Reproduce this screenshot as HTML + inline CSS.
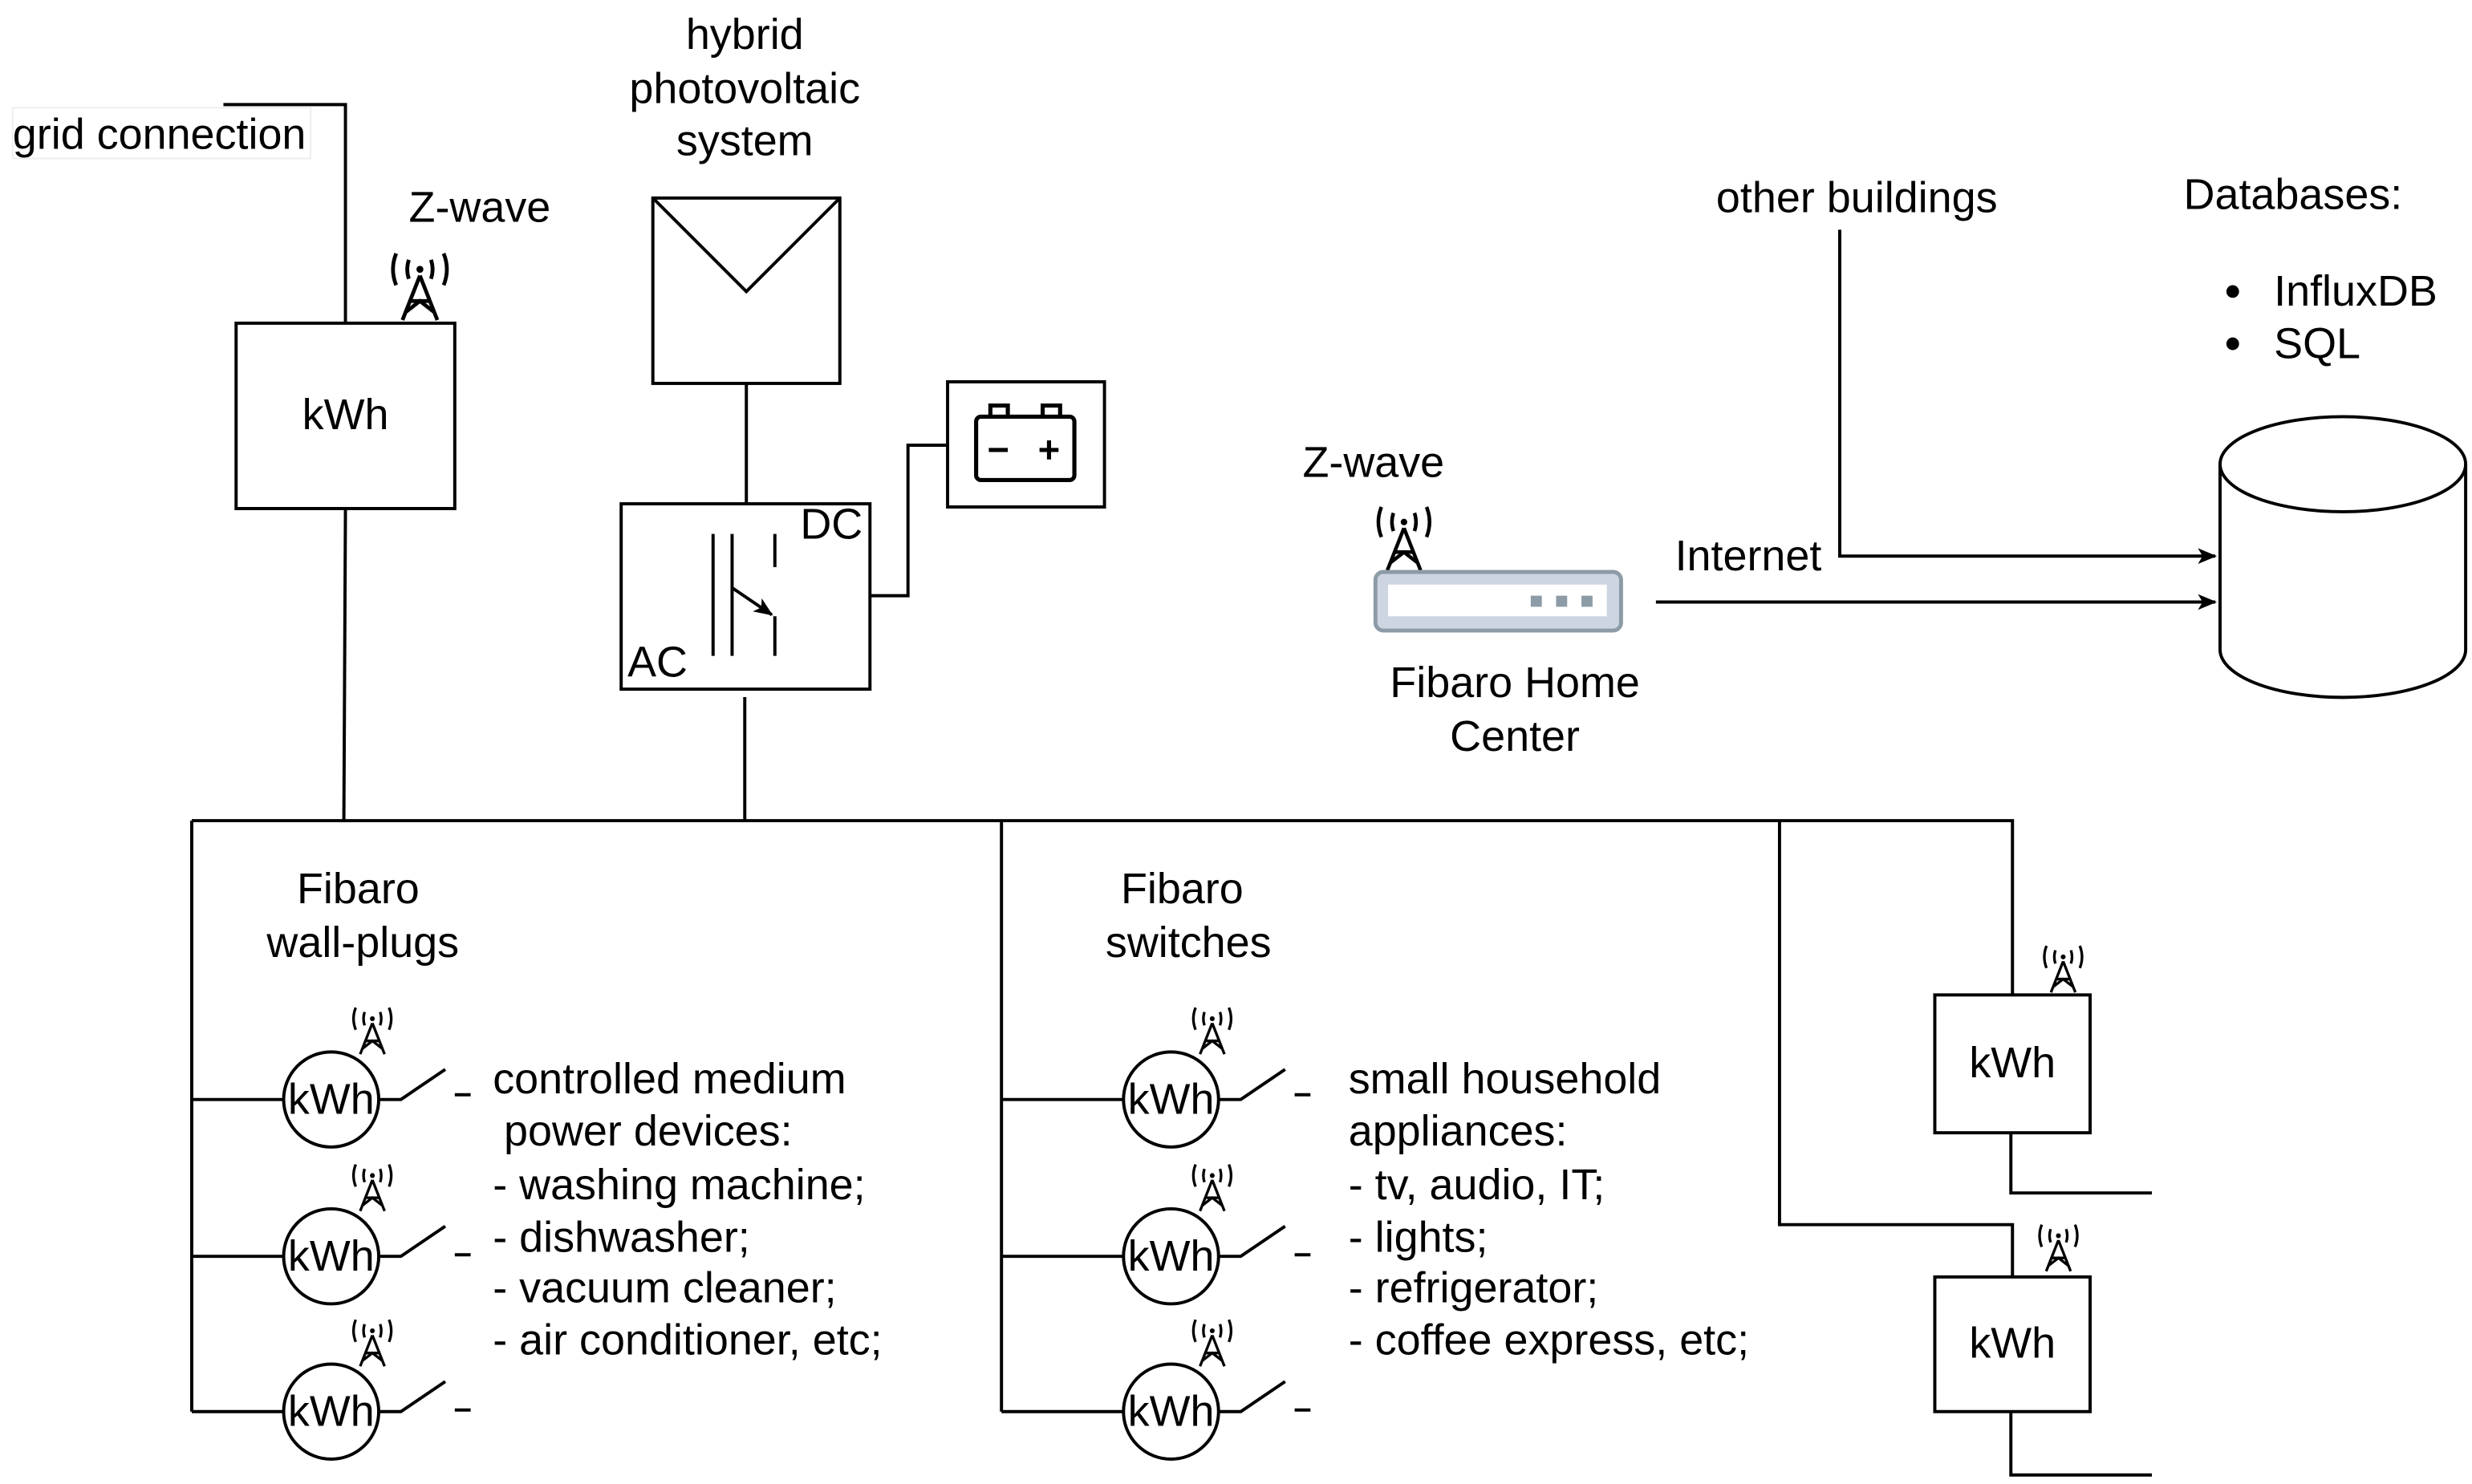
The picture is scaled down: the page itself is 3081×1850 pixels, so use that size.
<!DOCTYPE html>
<html><head><meta charset="utf-8"><style>html,body{margin:0;padding:0;background:#fff;}svg{display:block}</style></head>
<body>
<svg width="3081" height="1850" viewBox="0 0 1560 936.7" preserveAspectRatio="none" xmlns="http://www.w3.org/2000/svg" font-family="Liberation Sans, Arial, sans-serif" font-size="27.3">
<defs>
<g id="ant" fill="none" stroke="#000" stroke-width="2.4">
<circle cx="0" cy="10" r="2.2" fill="#000" stroke="none"/>
<path d="M-7,4 Q-9,10 -7,16 M7,4 Q9,10 7,16 M-15,0 Q-19,10 -15,20 M15,0 Q19,10 15,20"/>
<path d="M0,14 L-11,42 M0,14 L11,42 M-6,30 L6,30 M-9,37 L0,30 L9,37"/>
</g>
<g id="meter">
<circle cx="0" cy="0" r="30" fill="#fff" stroke="#000" stroke-width="2"/>
<text x="0" y="9" text-anchor="middle">kWh</text>
</g>
<marker id="ah" markerWidth="12" markerHeight="10" refX="11" refY="5" orient="auto" markerUnits="userSpaceOnUse"><path d="M0,0 L12,5 L0,10 L3,5 Z" fill="#000"/></marker>
</defs>
<g fill="none" stroke="#000" stroke-width="2">
<path d="M141,66 H218 V204"/>
<rect x="149" y="204" width="138" height="117"/>
<path d="M218,321 L217,518"/>
<rect x="412" y="125" width="118" height="117"/>
<path d="M412,125 L471,184 L530,125"/>
<path d="M471,242 V318"/>
<rect x="392" y="318" width="157" height="117"/>
<path d="M450,337 V414 M462,337 V414 M489,337 V358 M489,389 V414"/>
<path d="M462,371 L487,388" marker-end="url(#ah)"/>
<path d="M549,376 H573 V281 H598"/>
<rect x="598" y="241" width="99" height="79"/>
<path d="M470,440 V518"/>
<path d="M121,518 H1270 V628 M121,518 V891 M632,518 V891 M1123,518 V773 H1270 V806"/>
<rect x="1221" y="628" width="98" height="87"/>
<rect x="1221" y="806" width="98" height="85"/>
<path d="M1269,715 V753 H1358 M1269,891 V931 H1358"/>
<path d="M1045,380 H1398" marker-end="url(#ah)"/>
<path d="M1161,145 V351 H1398" marker-end="url(#ah)"/>
<path d="M1401,293 V410 A77,30 0 0 0 1556,410 V293"/>
<ellipse cx="1478.5" cy="293" rx="77.5" ry="30"/>
</g>
<g fill="none" stroke="#000" stroke-width="2.6">
<rect x="616" y="263" width="62" height="40" rx="3"/>
<path d="M625,263 V256 H636 V263 M658,263 V256 H669 V263"/>
<path d="M624,284 H636 M656,284 H668 M662,278 V290"/>
</g>
<g stroke="#000" stroke-width="2" fill="none">
<path d="M121,694 H179 M239,694 H253 L281,675 M287,691 H297"/>
<path d="M121,793 H179 M239,793 H253 L281,774 M287,792 H297"/>
<path d="M121,891 H179 M239,891 H253 L281,872 M287,890 H297"/>
<path d="M632,694 H709 M769,694 H783 L811,675 M817,691 H827"/>
<path d="M632,793 H709 M769,793 H783 L811,774 M817,792 H827"/>
<path d="M632,891 H709 M769,891 H783 L811,872 M817,890 H827"/>
</g>
<use href="#meter" x="209" y="694"/><use href="#meter" x="209" y="793"/><use href="#meter" x="209" y="891"/>
<use href="#meter" x="739" y="694"/><use href="#meter" x="739" y="793"/><use href="#meter" x="739" y="891"/>
<g transform="translate(235,636) scale(0.7)"><use href="#ant"/></g>
<g transform="translate(235,735) scale(0.7)"><use href="#ant"/></g>
<g transform="translate(235,833) scale(0.7)"><use href="#ant"/></g>
<g transform="translate(765,636) scale(0.7)"><use href="#ant"/></g>
<g transform="translate(765,735) scale(0.7)"><use href="#ant"/></g>
<g transform="translate(765,833) scale(0.7)"><use href="#ant"/></g>
<g transform="translate(1302,597) scale(0.7)"><use href="#ant"/></g>
<g transform="translate(1299,773) scale(0.7)"><use href="#ant"/></g>
<g transform="translate(265,160)"><use href="#ant"/></g>
<g transform="translate(886,320) scale(0.95)"><use href="#ant"/></g>
<rect x="868" y="361" width="155" height="37" rx="5" fill="#cdd5e1" stroke="#8d9ba7" stroke-width="2.5"/>
<rect x="876" y="369" width="138" height="20" fill="#fff"/>
<rect x="966" y="376" width="7" height="7" fill="#8d9ba7"/><rect x="982" y="376" width="7" height="7" fill="#8d9ba7"/><rect x="998" y="376" width="7" height="7" fill="#8d9ba7"/>
<rect x="8" y="68" width="188" height="32" fill="none" stroke="#eee" stroke-width="1"/>
<g fill="#000">
<text x="8" y="94">grid connection</text>
<text x="258" y="140">Z-wave</text>
<text x="218" y="271" text-anchor="middle">kWh</text>
<text x="470" y="31" text-anchor="middle">hybrid</text>
<text x="470" y="65" text-anchor="middle">photovoltaic</text>
<text x="470" y="98" text-anchor="middle">system</text>
<text x="505" y="340">DC</text>
<text x="396" y="427">AC</text>
<text x="822" y="301">Z-wave</text>
<text x="956" y="440" text-anchor="middle">Fibaro Home</text>
<text x="956" y="474" text-anchor="middle">Center</text>
<text x="1057" y="360">Internet</text>
<text x="1083" y="134">other buildings</text>
<text x="1378" y="132">Databases:</text>
<circle cx="1409" cy="184" r="4"/><circle cx="1409" cy="217" r="4"/>
<text x="1435" y="193">InfluxDB</text>
<text x="1435" y="226">SQL</text>
<text x="226" y="570" text-anchor="middle">Fibaro</text>
<text x="229" y="604" text-anchor="middle">wall-plugs</text>
<text x="746" y="570" text-anchor="middle">Fibaro</text>
<text x="750" y="604" text-anchor="middle">switches</text>
<text x="311" y="690">controlled medium</text>
<text x="318" y="723">power devices:</text>
<text x="311" y="757">- washing machine;</text>
<text x="311" y="790">- dishwasher;</text>
<text x="311" y="822">- vacuum cleaner;</text>
<text x="311" y="855">- air conditioner, etc;</text>
<text x="851" y="690">small household</text>
<text x="851" y="723">appliances:</text>
<text x="851" y="757">- tv, audio, IT;</text>
<text x="851" y="790">- lights;</text>
<text x="851" y="822">- refrigerator;</text>
<text x="851" y="855">- coffee express, etc;</text>
<text x="1270" y="680" text-anchor="middle">kWh</text>
<text x="1270" y="857" text-anchor="middle">kWh</text>
</g>
</svg>
</body></html>
